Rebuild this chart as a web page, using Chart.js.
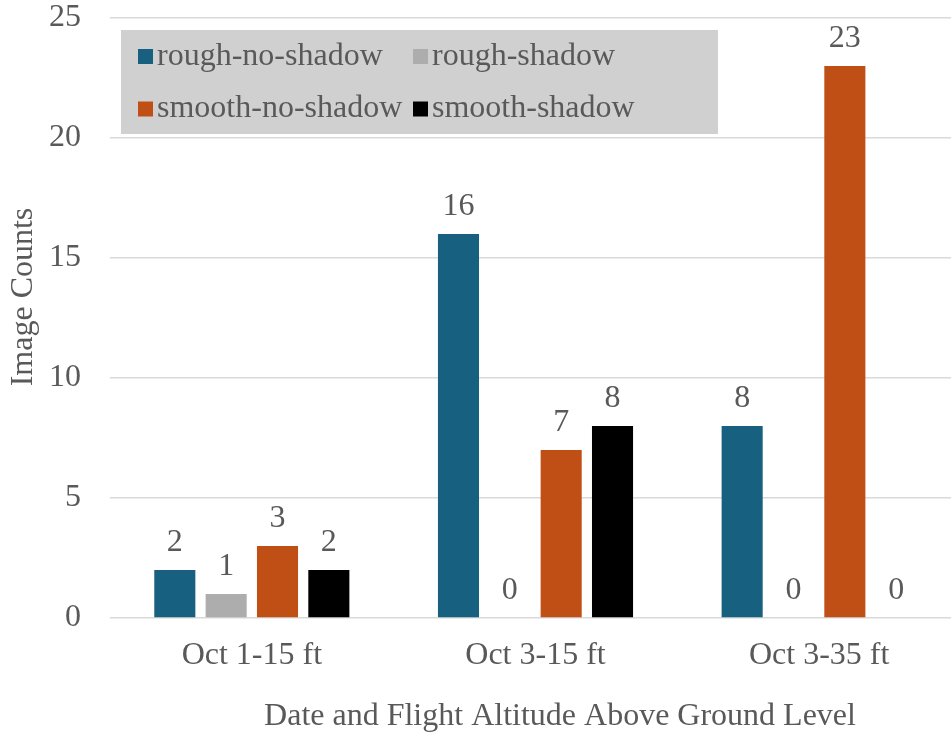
<!DOCTYPE html>
<html>
<head>
<meta charset="utf-8">
<script src="https://cdn.jsdelivr.net/npm/chart.js@4.4.1/dist/chart.umd.min.js"></script>
<style>
  html, body { margin: 0; padding: 0; overflow: hidden; background: #ffffff; }
  canvas { display: block; }
</style>
</head>
<body>
<canvas id="chart" width="962" height="733"></canvas>
<script>
// Image counts per flight, grouped by surface / shadow condition
const categories = ['Oct 1-15 ft', 'Oct 3-15 ft', 'Oct 3-35 ft'];
const seriesNames = ['rough-no-shadow', 'rough-shadow', 'smooth-no-shadow', 'smooth-shadow'];
const roughNoShadow = [2, 16, 8];
const roughShadow = [1, 0, 0];
const smoothNoShadow = [3, 7, 23];
const smoothShadow = [2, 8, 0];
const yTickValues = [0, 5, 10, 15, 20, 25];
const xAxisTitle = 'Date and Flight Altitude Above Ground Level';
const yAxisTitle = 'Image Counts';

const seriesColors = ['#17607f', '#adadad', '#c04f15', '#000000'];
const FONT = '"Liberation Serif", "Times New Roman", serif';
const TEXT = '#595959';

const seriesValues = [roughNoShadow, roughShadow, smoothNoShadow, smoothShadow];

// Value labels above each bar
const valueLabels = {
  id: 'valueLabels',
  afterDatasetsDraw(chart) {
    const ctx = chart.ctx;
    ctx.save();
    ctx.font = '32px ' + FONT;
    ctx.fillStyle = TEXT;
    ctx.textAlign = 'center';
    ctx.textBaseline = 'alphabetic';
    chart.data.datasets.forEach((ds, i) => {
      chart.getDatasetMeta(i).data.forEach((bar, j) => {
        ctx.fillText(String(ds.data[j]), bar.x, bar.y - 19);
      });
    });
    ctx.restore();
  }
};

// Boxed two-column legend inside the plot, plus both axis titles
const decorations = {
  id: 'decorations',
  afterDraw(chart) {
    const ctx = chart.ctx;
    ctx.save();
    ctx.fillStyle = '#d0d0d0';
    ctx.fillRect(121, 30, 597, 104);
    ctx.font = '32px ' + FONT;
    ctx.textBaseline = 'middle';
    ctx.textAlign = 'left';
    const colX = [138, 413];
    const rowY = [56.5, 109];
    chart.data.datasets.forEach((ds, i) => {
      const x = colX[i % 2];
      const y = rowY[Math.floor(i / 2)];
      ctx.fillStyle = ds.backgroundColor;
      ctx.fillRect(x, y - 7.5, 15, 15);
      ctx.fillStyle = TEXT;
      ctx.fillText(ds.label, x + 19, y);
    });

    ctx.fillStyle = TEXT;
    ctx.textAlign = 'center';
    ctx.textBaseline = 'alphabetic';
    ctx.fillText(xAxisTitle, 560, 725);

    ctx.translate(24, 297);
    ctx.rotate(-Math.PI / 2);
    ctx.textBaseline = 'middle';
    ctx.fillText(yAxisTitle, 0, 0);
    ctx.restore();
  }
};

function fixPadding(axis) {
  axis.paddingTop = 0;
  axis.paddingBottom = 0;
  axis.paddingLeft = 0;
  axis.paddingRight = 0;
}

new Chart(document.getElementById('chart'), {
  type: 'bar',
  data: {
    labels: categories,
    datasets: seriesNames.map((name, i) => ({
      label: name,
      data: seriesValues[i],
      backgroundColor: seriesColors[i],
      borderWidth: 0,
      categoryPercentage: 0.724,
      barPercentage: 0.8
    }))
  },
  options: {
    responsive: false,
    animation: false,
    layout: { padding: { top: 18, right: 1, left: 0, bottom: 0 } },
    plugins: {
      legend: { display: false },
      tooltip: { enabled: false },
      title: { display: false }
    },
    scales: {
      x: {
        offset: true,
        grid: { display: false, drawTicks: false },
        border: { display: false },
        ticks: {
          color: TEXT,
          padding: 18,
          maxRotation: 0,
          autoSkip: false,
          font: { family: FONT, size: 32, lineHeight: 1.2 }
        },
        afterFit(axis) { axis.height = 115; fixPadding(axis); }
      },
      y: {
        min: 0,
        max: 25,
        afterBuildTicks(axis) { axis.ticks = yTickValues.map(v => ({ value: v })); },
        grid: { color: '#d9d9d9', lineWidth: 1.5, drawTicks: false },
        border: { display: false },
        ticks: {
          color: TEXT,
          padding: 29,
          font: { family: FONT, size: 32, lineHeight: 1.0 }
        },
        afterFit(axis) { axis.width = 110; fixPadding(axis); }
      }
    }
  },
  plugins: [valueLabels, decorations]
});
</script>
</body>
</html>
